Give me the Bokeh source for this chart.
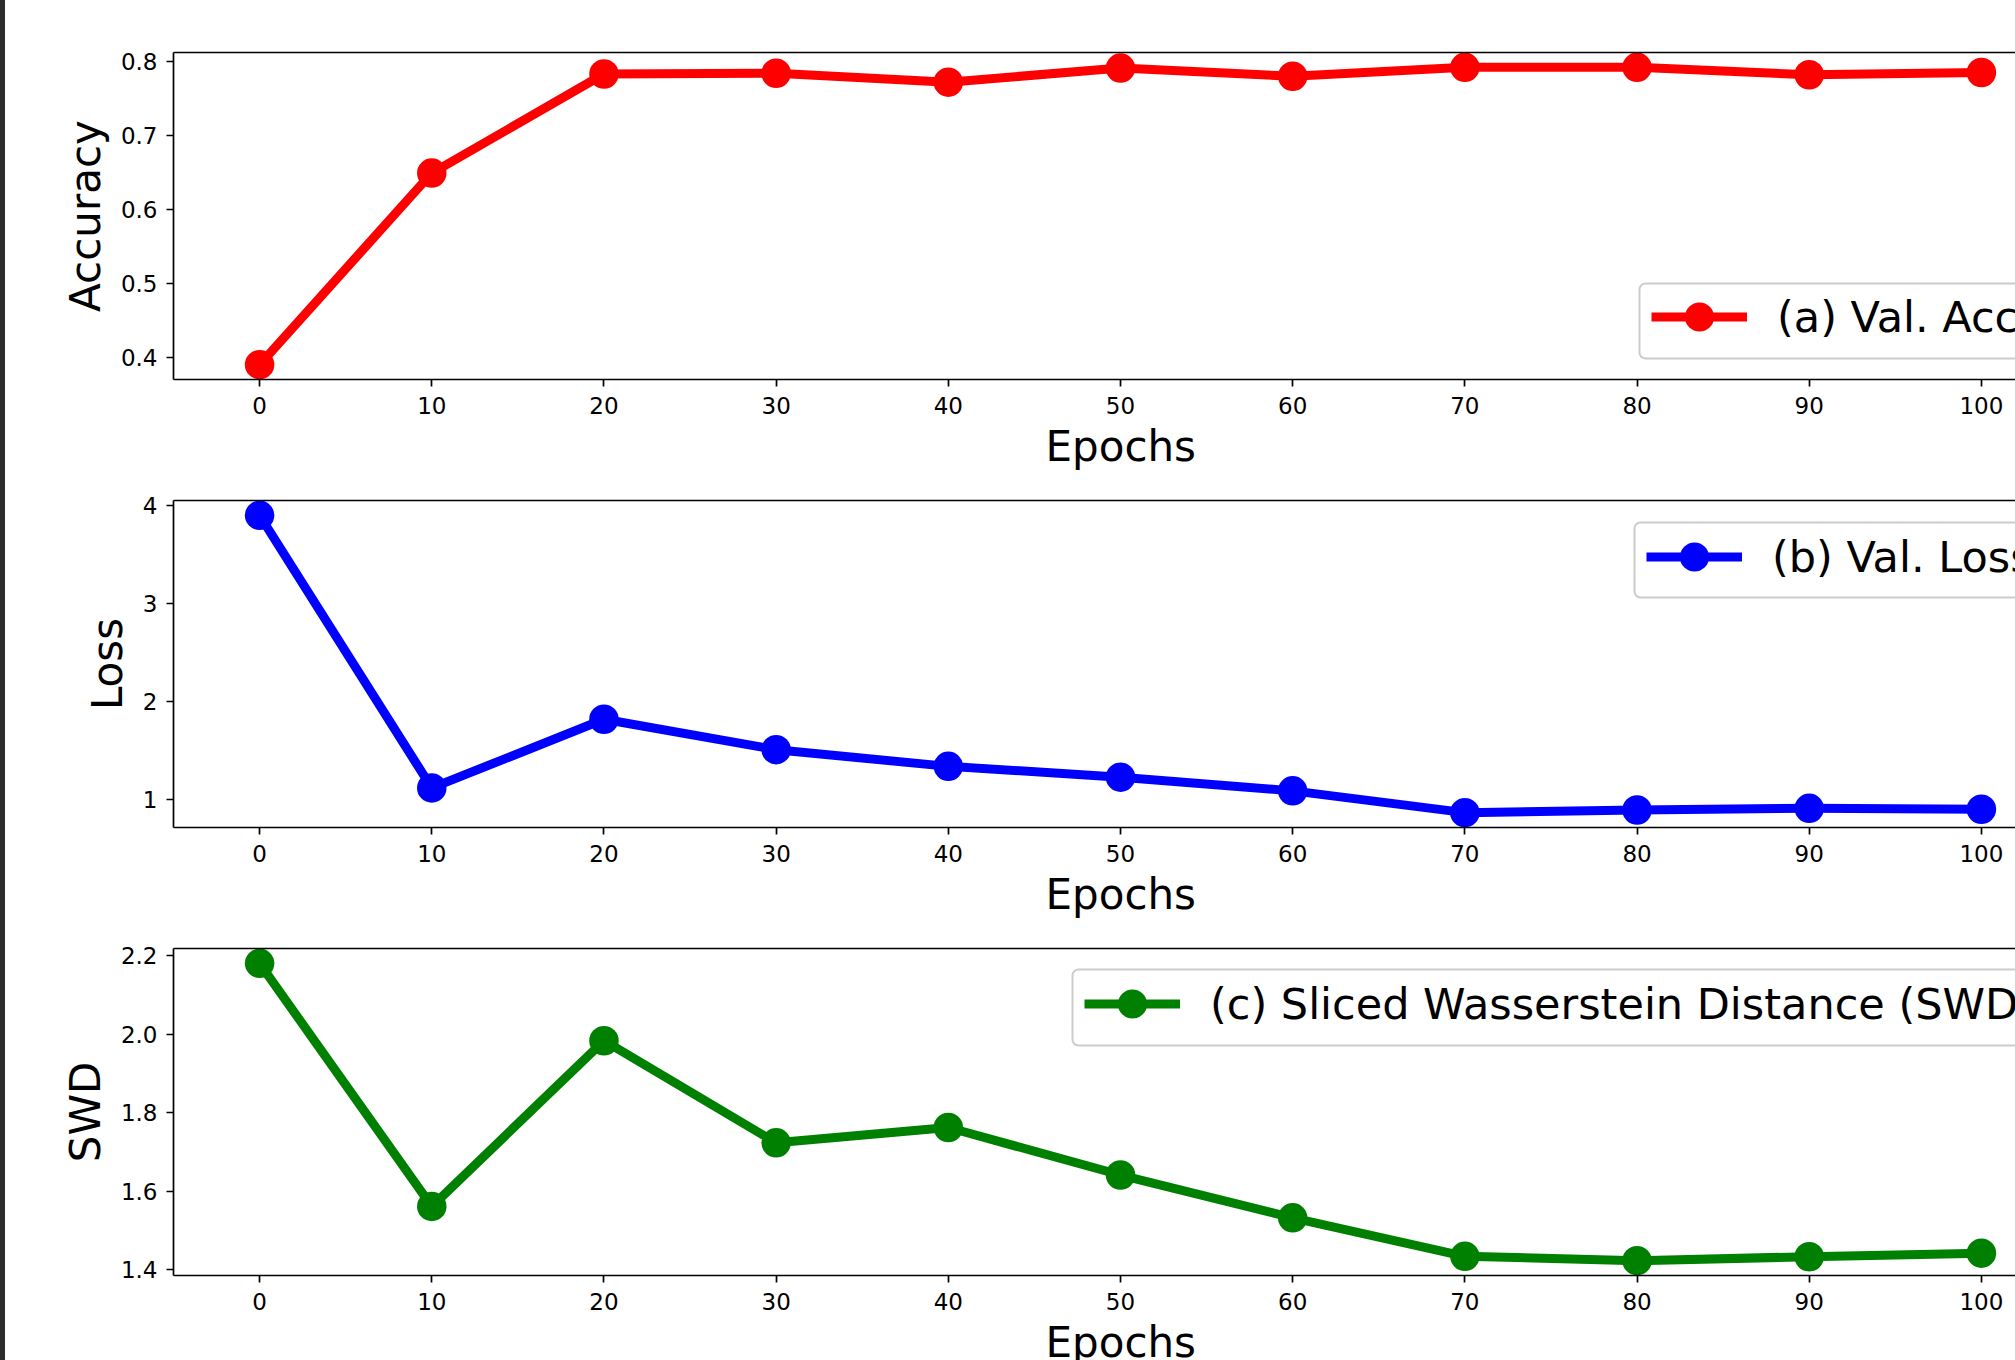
from bokeh.plotting import figure
from bokeh.layouts import column, row
from bokeh.models import (Range1d, FixedTicker, PrintfTickFormatter, Legend, LegendItem,
                          LinearAxis, Title, BoxAnnotation, Div)
from bokeh.embed import file_html
from bokeh.resources import INLINE

# ---------------- data ----------------
epochs = [0, 10, 20, 30, 40, 50, 60, 70, 80, 90, 100]
accuracy = [0.390, 0.649, 0.783, 0.784, 0.772, 0.791, 0.780, 0.792, 0.792, 0.782, 0.785]
loss = [3.90, 1.12, 1.82, 1.51, 1.34, 1.23, 1.09, 0.868, 0.895, 0.912, 0.902]
swd = [2.180, 1.561, 1.983, 1.723, 1.762, 1.641, 1.532, 1.434, 1.423, 1.433, 1.442]

x_ticks = [0, 10, 20, 30, 40, 50, 60, 70, 80, 90, 100]
acc_ticks = [0.4, 0.5, 0.6, 0.7, 0.8]
loss_ticks = [1, 2, 3, 4]
swd_ticks = [1.4, 1.6, 1.8, 2.0, 2.2]

x_label = "Epochs"
y_labels = ["Accuracy", "Loss", "SWD"]
legend_labels = ["(a) Val. Accuracy", "(b) Val. Loss",
                 "(c) Sliced Wasserstein Distance (SWD)"]
colors = ["#ff0000", "#0000ff", "#008000"]

# ---------------- layout constants ----------------
FONT = "DejaVu Sans"
STRIP = 5
LEFT = 173 - STRIP
FRAME_W = 1842          # visible part of the frame (cropped at the right edge)
FULL_W = 1894           # full frame width of the original axes
FRAME_H = 327
X_START = -5
X_END = X_START + 110 * FRAME_W / FULL_W
AX_W = 1.7


def make_panel(values, ticks, fmt, color, ylabel, leg_label,
               border_top, border_bottom, leg_xy, box):
    lo, hi = min(values), max(values)
    pad = 0.05 * (hi - lo)
    p = figure(frame_width=FRAME_W, frame_height=FRAME_H,
               min_border_left=LEFT, min_border_right=0,
               min_border_top=border_top, min_border_bottom=border_bottom,
               x_range=Range1d(X_START, X_END),
               y_range=Range1d(lo - pad, hi + pad),
               output_backend="svg", toolbar_location=None,
               background_fill_color="white", border_fill_color="white")
    p.outline_line_color = None
    p.xgrid.visible = False
    p.ygrid.visible = False

    ln = p.line(epochs, values, line_color=color, line_width=9, line_join="round")
    sc = p.scatter(epochs, values, size=29.5, fill_color=color, line_color=None,
                   marker="circle")

    for ax in (p.xaxis[0], p.yaxis[0]):
        ax.major_label_text_font = FONT
        ax.major_label_text_font_size = "23px"
        ax.major_label_text_color = "black"
        ax.axis_line_width = AX_W
        ax.axis_line_color = "black"
        ax.major_tick_line_width = AX_W
        ax.major_tick_line_color = "black"
        ax.major_tick_out = 7
        ax.major_tick_in = 0
        ax.minor_tick_line_color = None

    xa = p.xaxis[0]
    xa.ticker = FixedTicker(ticks=x_ticks)
    xa.major_label_standoff = 10

    ya = p.yaxis[0]
    ya.ticker = FixedTicker(ticks=ticks)
    ya.formatter = PrintfTickFormatter(format=fmt)
    ya.major_label_standoff = 9
    ya.axis_label = ylabel
    ya.axis_label_text_font = FONT
    ya.axis_label_text_font_size = "42px"
    ya.axis_label_text_font_style = "normal"
    ya.axis_label_text_color = "black"
    ya.axis_label_standoff = 8

    top = LinearAxis(ticker=FixedTicker(ticks=[]), axis_line_width=AX_W,
                     axis_line_color="black", major_tick_line_color=None,
                     minor_tick_line_color=None, major_label_text_font_size="0px")
    p.add_layout(top, "above")

    # x-axis title, centred under the full (uncropped) axes
    p.add_layout(Title(text=x_label, align="left", offset=872, vertical_align="top",
                       standoff=11, text_font=FONT, text_font_size="42px",
                       text_font_style="normal", text_color="black"), "below")

    p.add_layout(BoxAnnotation(left=box[0], right=box[0] + 1200, bottom=box[1], top=box[2],
                               left_units="screen", right_units="screen",
                               bottom_units="screen", top_units="screen",
                               fill_color="white", fill_alpha=0.8,
                               line_color="#cccccc", line_alpha=1.0, line_width=2,
                               border_radius=6))

    leg = Legend(items=[LegendItem(label=leg_label, renderers=[ln, sc])],
                 location=leg_xy, padding=0, margin=0, spacing=0,
                 glyph_width=96, glyph_height=73, label_standoff=30,
                 label_text_font=FONT, label_text_font_size="43px",
                 label_text_color="black",
                 border_line_alpha=0, background_fill_alpha=0)
    p.add_layout(leg)
    return p


p1 = make_panel(accuracy, acc_ticks, "%.1f", colors[0], y_labels[0], legend_labels[0],
                52, 110, (1478, 26), (1466, 21, 96))
p2 = make_panel(loss, loss_ticks, "%d", colors[1], y_labels[1], legend_labels[1],
                11, 110, (1473, 234), (1461, 230, 305))
p3 = make_panel(swd, swd_ticks, "%.1f", colors[2], y_labels[2], legend_labels[2],
                11, 110, (911, 235), (899, 230, 306))

strip = Div(text="", width=STRIP, height=1360,
            styles={"background-color": "#2b2b2b", "margin": "0"})
charts = column(p1, p2, p3)
layout = row(strip, charts,
             styles={"max-height": "1360px", "max-width": "2015px", "overflow": "hidden"})
open("out.html", "w").write(file_html(layout, INLINE))
